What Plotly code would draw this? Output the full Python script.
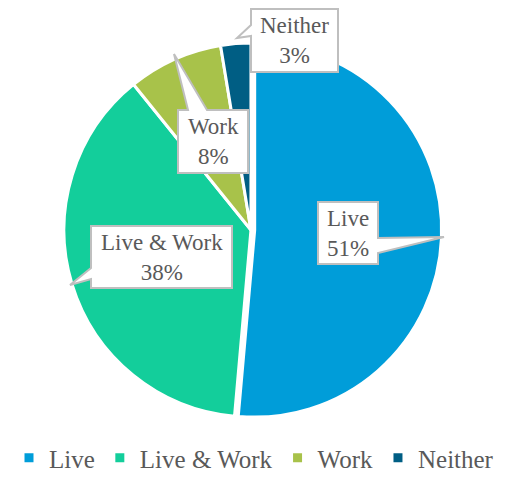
import plotly.graph_objects as go

categories = ["Live", "Live & Work", "Work", "Neither"]
values = [51.4, 37.8, 8.2, 2.6]
colors = ["#009DD9", "#13CE9B", "#A8C24A", "#005E84"]

W, H = 508, 481
FONT = "Liberation Serif"
TXT = "#595959"
EDGE = "#BFBFBF"

def px(x, y):
    return x / W, 1 - y / H

fig = go.Figure(go.Pie(
    labels=categories, values=values, sort=False, direction="clockwise",
    rotation=0, textinfo="none", pull=[0.02, 0, 0, 0],
    marker=dict(colors=colors, line=dict(color="white", width=3)),
    domain=dict(x=[0, 0.988], y=[0.1254, 0.9183]),
))

# callout boxes: (box left, top, right, bottom), pointer side, base span, tip
callouts = [
    ((318, 202, 378, 264), "right", (238, 253), (444, 237)),
    ((91, 226, 232, 288), "left", (268, 279), (70, 285)),
    ((178, 110, 248, 173), "top", (188, 207), (174, 54)),
    ((251, 9, 338, 72), "left", (25, 36), (237, 38)),
]

total = sum(values)
for cat, v, (box, side, base, tip) in zip(categories, values, callouts):
    l, t, r, b = box
    pts = [(l, t)]
    if side == "top":
        pts += [(base[0], t), tip, (base[1], t)]
    pts += [(r, t)]
    if side == "right":
        pts += [(r, base[0]), tip, (r, base[1])]
    pts += [(r, b), (l, b)]
    if side == "left":
        pts += [(l, base[1]), tip, (l, base[0])]
    path = "M " + " L ".join("%.5f,%.5f" % px(x, y) for x, y in pts) + " Z"
    fig.add_shape(type="path", path=path, xref="paper", yref="paper",
                  fillcolor="white", line=dict(color=EDGE, width=2), layer="above")
    cx, cy = px((l + r) / 2, (t + b) / 2)
    fig.add_annotation(x=cx, y=cy, xref="paper", yref="paper", showarrow=False,
                       text=f"{cat}<br>{round(v / total * 100)}%",
                       font=dict(family=FONT, size=23, color=TXT),
                       xanchor="center", yanchor="middle", align="center")

fig.update_layout(
    width=W, height=H, margin=dict(l=0, r=0, t=0, b=0, autoexpand=False),
    paper_bgcolor="white", plot_bgcolor="white",
    showlegend=True,
    legend=dict(orientation="h", x=0.5, xanchor="center", y=0,
                yanchor="bottom", font=dict(family=FONT, size=25, color=TXT),
                bgcolor="rgba(0,0,0,0)", itemclick=False),
)

fig.write_html("out.html")
